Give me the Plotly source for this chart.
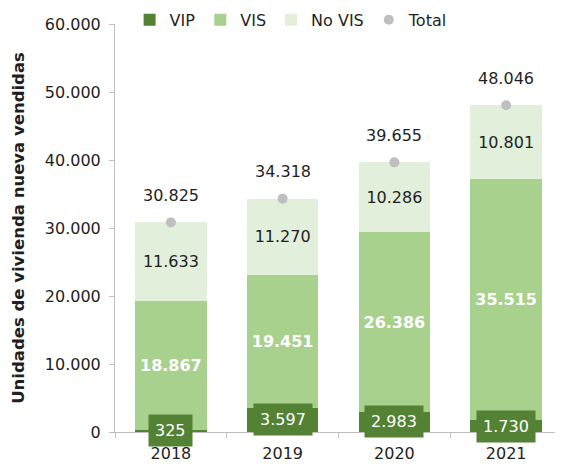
import plotly.graph_objects as go

years = ["2018", "2019", "2020", "2021"]
vip = [325, 3597, 2983, 1730]
vis = [18867, 19451, 26386, 35515]
no_vis = [11633, 11270, 10286, 10801]
total = [30825, 34318, 39655, 48046]
y_ticks = [0, 10000, 20000, 30000, 40000, 50000, 60000]
y_tick_labels = ["0", "10.000", "20.000", "30.000", "40.000", "50.000", "60.000"]

FONT = "DejaVu Sans"
TXT = "#1f1f1f"
C_VIP = "#548235"
C_VIS = "#A9D18E"
C_NOVIS = "#E2EFDA"
C_TOTAL = "#BFBFBF"

def fmt(v):
    return f"{v:,}".replace(",", ".")

fig = go.Figure()
fig.add_trace(go.Bar(name="VIP", x=years, y=vip, marker_color=C_VIP,
                     marker_line_width=0, hoverinfo="skip"))
fig.add_trace(go.Bar(name="VIS", x=years, y=vis, marker_color=C_VIS, marker_line_width=0,
                     text=["<b>" + fmt(v) + "</b>" for v in vis], textposition="inside",
                     insidetextanchor="middle", textangle=0,
                     textfont=dict(color="white", size=16, family=FONT)))
fig.add_trace(go.Bar(name="No VIS", x=years, y=no_vis, marker_color=C_NOVIS, marker_line_width=0,
                     text=[fmt(v) for v in no_vis], textposition="inside",
                     insidetextanchor="middle", textangle=0,
                     textfont=dict(color=TXT, size=16, family=FONT)))
fig.add_trace(go.Scatter(name="Total", x=years, y=total, mode="markers",
                         marker=dict(color=C_TOTAL, size=10)))

for i, v in enumerate(total):
    fig.add_annotation(x=i, y=v, text=fmt(v), showarrow=False, yshift=27,
                       font=dict(color=TXT, size=16, family=FONT),
                       xanchor="center", yanchor="middle")

for i, v in enumerate(vip):
    fig.add_annotation(x=i, y=v / 2, text=fmt(v), showarrow=False,
                       bgcolor=C_VIP, borderpad=6,
                       font=dict(color="white", size=16, family=FONT),
                       xanchor="center", yanchor="middle")

fig.update_layout(
    barmode="stack", bargap=0.36,
    width=555, height=456,
    margin=dict(l=107, r=1, t=16, b=32, autoexpand=False),
    plot_bgcolor="white", paper_bgcolor="white",
    font=dict(family=FONT, size=16, color=TXT),
    showlegend=True,
    legend=dict(orientation="h", x=0.394, xanchor="center", y=1.01, yanchor="middle",
                font=dict(size=16, color=TXT), itemwidth=30, traceorder="normal",
                bgcolor="rgba(0,0,0,0)"),
    xaxis=dict(type="category", range=[-0.5, 3.5], showline=True, linecolor="#BFBFBF",
               linewidth=1, ticks="outside", tickson="boundaries", ticklen=5,
               tickcolor="#BFBFBF", tickfont=dict(size=16, color=TXT), showgrid=False,
               ticklabelstandoff=7, automargin=False),
    yaxis=dict(range=[0, 60000], tickvals=y_ticks, ticktext=y_tick_labels,
               showline=True, linecolor="#BFBFBF", linewidth=1, ticks="outside",
               ticklen=5, tickcolor="#BFBFBF", showgrid=False, zeroline=False,
               tickfont=dict(size=16, color=TXT), ticklabelstandoff=5, automargin=False,
               title=dict(text="<b>Unidades de vivienda nueva vendidas</b>",
                          font=dict(size=16.5, color=TXT), standoff=16)),
)

fig.write_html("out.html")
